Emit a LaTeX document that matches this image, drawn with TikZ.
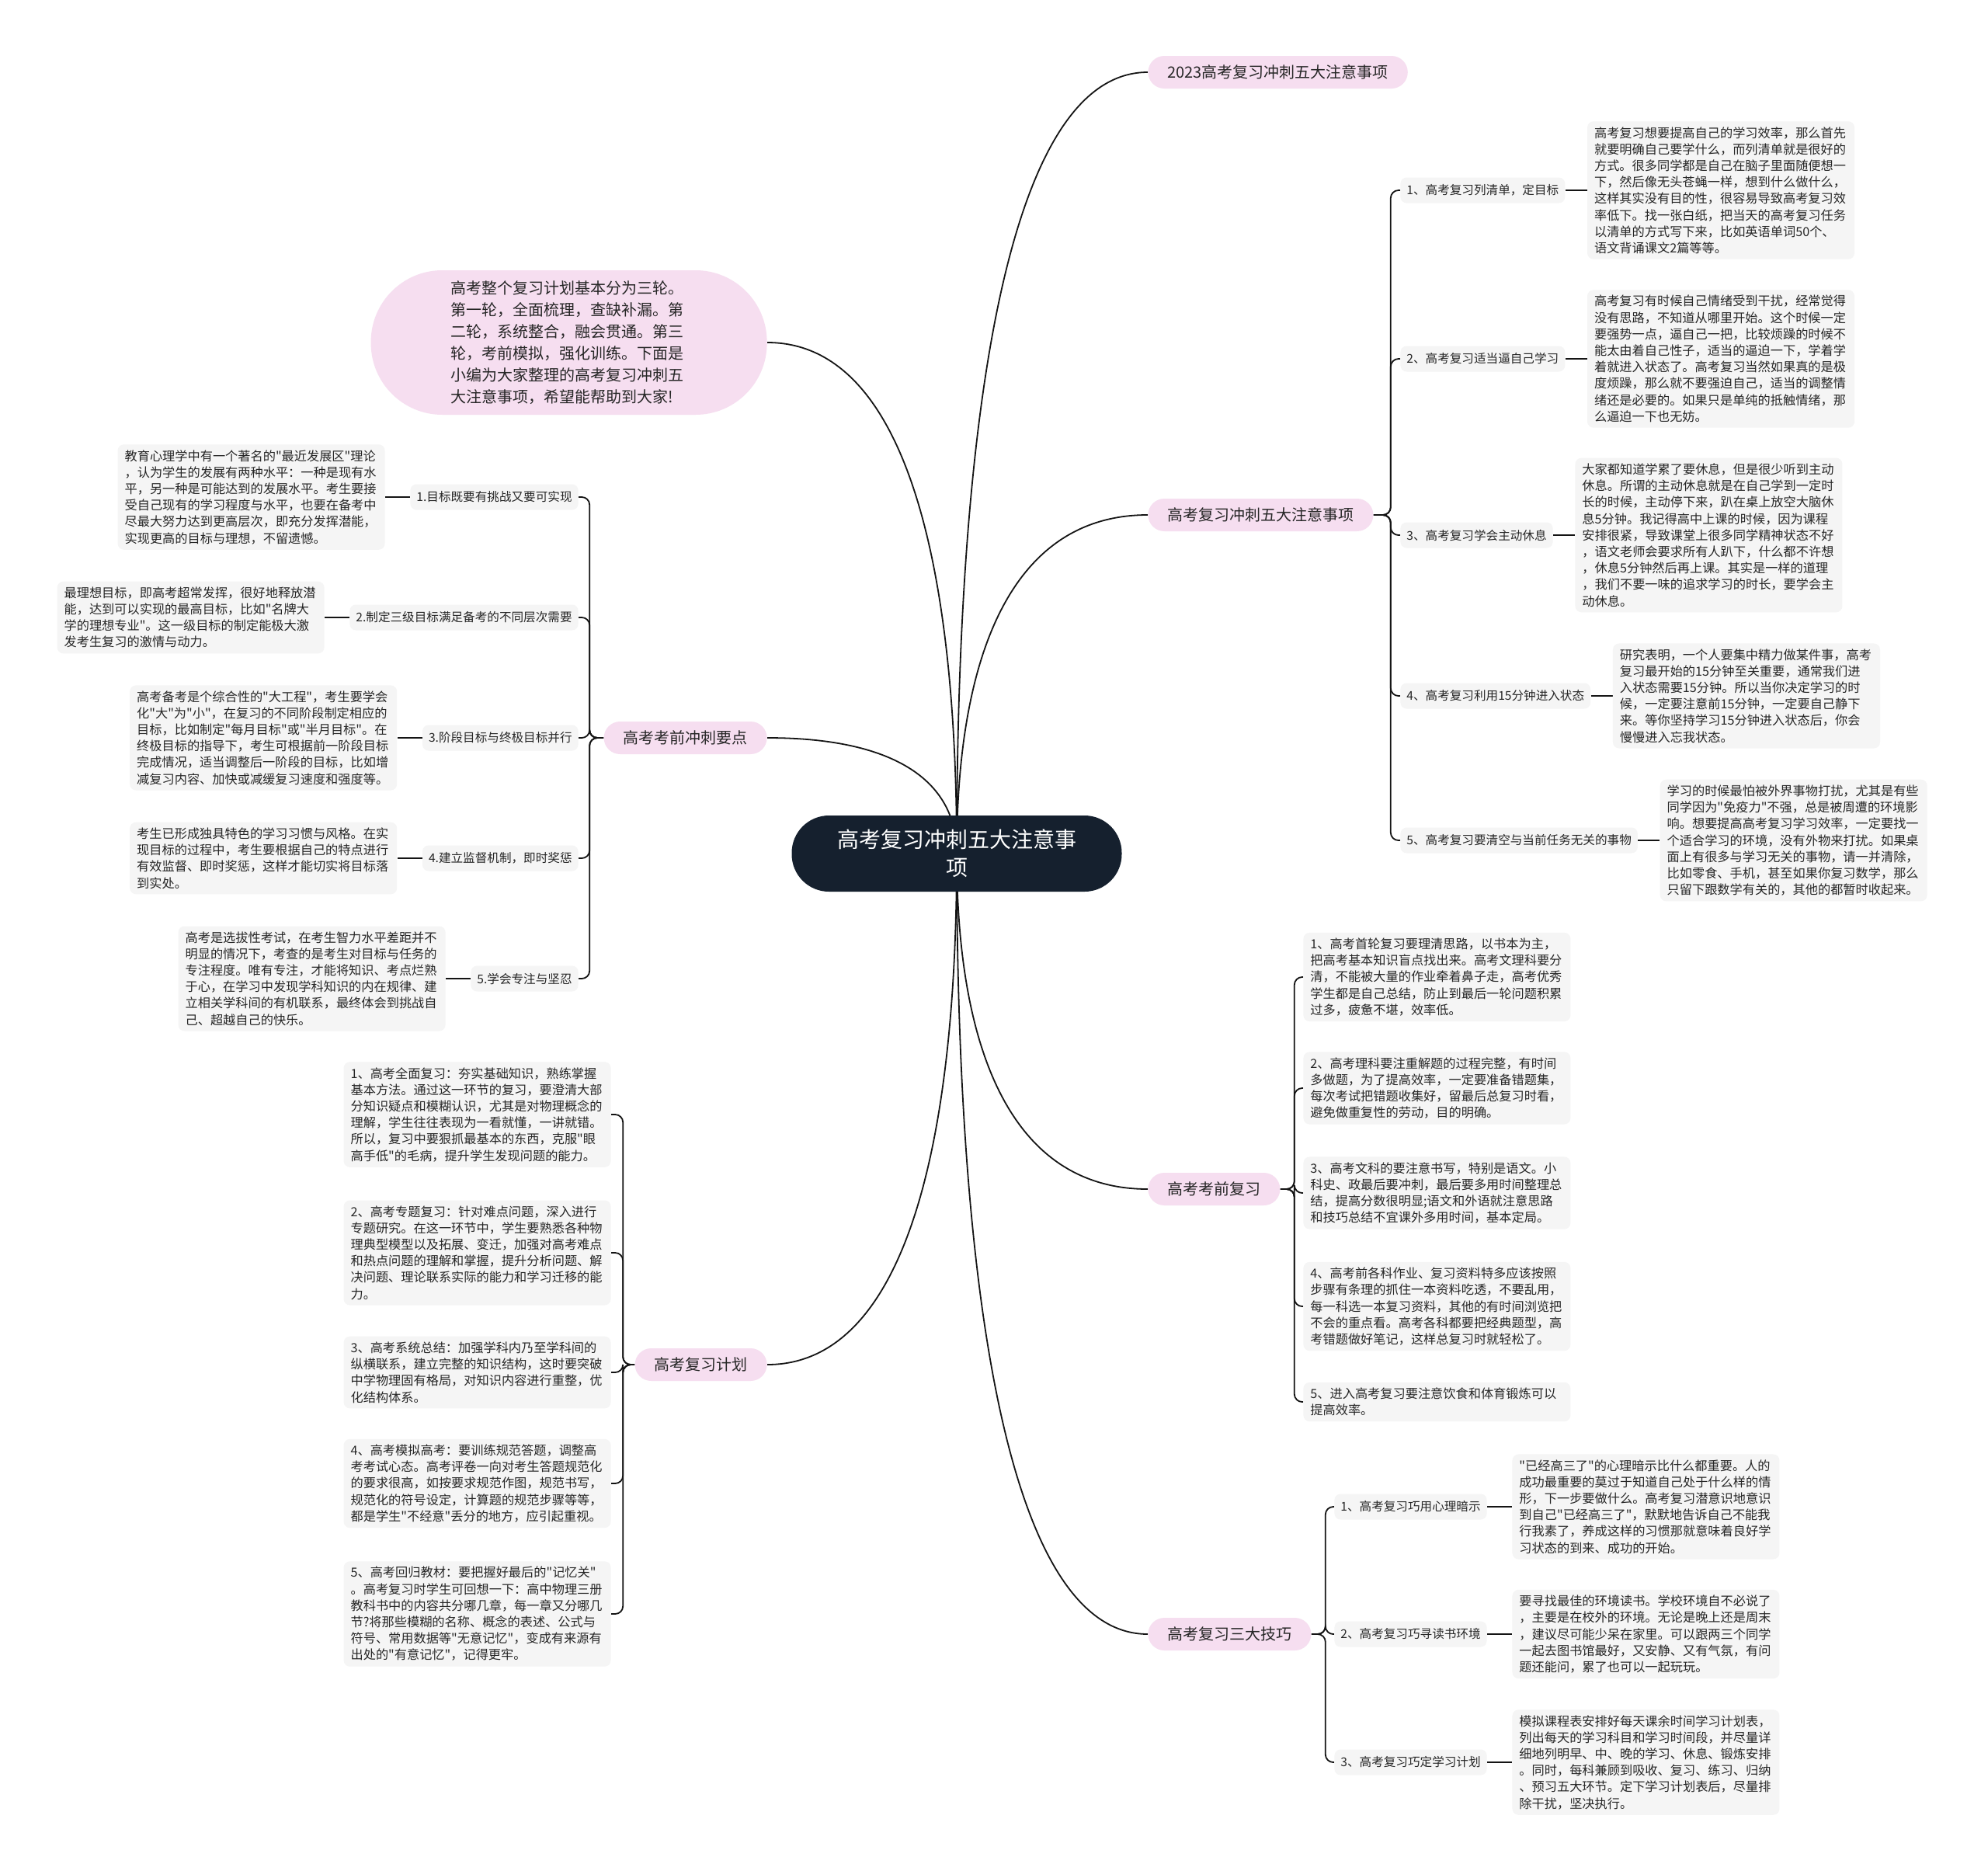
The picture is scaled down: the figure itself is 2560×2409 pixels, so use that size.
\documentclass[tikz,border=0pt]{standalone}
\usepackage{fontspec}
\setmainfont{Noto Sans CJK SC}[Ligatures=TeXOff]
\usetikzlibrary{backgrounds,calc,positioning}
\definecolor{rootc}{RGB}{21,32,46}
\definecolor{pinkc}{RGB}{246,222,240}
\definecolor{grayc}{RGB}{245,245,245}
\definecolor{txtc}{RGB}{38,38,38}
\definecolor{linec}{RGB}{20,20,20}
\begin{document}
\begin{tikzpicture}[x=0.5pt,y=-0.5pt,
  rootnode/.style={fill=rootc, text=white, rounded corners=24pt, minimum width=212.5pt, minimum height=49pt, align=center, font=\fontsize{14pt}{18pt}\selectfont},
  pill/.style={fill=pinkc, text=txtc, rounded corners=10.5pt, minimum height=21pt, inner xsep=12.5pt, inner ysep=0pt, font=\fontsize{10pt}{12pt}\selectfont},
  bubble/.style={fill=pinkc, text=txtc, rounded corners=46pt, minimum width=255pt, minimum height=93pt, inner sep=0pt, text width=152pt, align=left, font=\fontsize{10pt}{14pt}\selectfont},
  lab/.style={fill=grayc, text=txtc, rounded corners=4pt, minimum height=16.5pt, inner xsep=4pt, inner ysep=0pt, font=\fontsize{7.8pt}{10pt}\selectfont},
  body/.style={fill=grayc, text=txtc, rounded corners=4pt, inner xsep=4.5pt, inner ysep=3.5pt, text width=163pt, align=left, font=\fontsize{8.1pt}{10.6pt}\selectfont},
  conn/.style={draw=linec, line width=0.9pt},
  mainconn/.style={to path={.. controls ($(\tikztostart)!0.6!(\tikztostart |- \tikztotarget)$) and ($(\tikztotarget)!0.7!(\tikztostart |- \tikztotarget)$) .. (\tikztotarget)}},
  spine/.style={conn, rounded corners=5pt}
]
\begin{pgfonlayer}{background}
\fill[white] (0,0) rectangle (2560,2409);
\end{pgfonlayer}
\useasboundingbox (0,0) rectangle (2560,2409);

% root
\node[rootnode] (R) at (1232,1099) {高考复习冲刺五大注意事\\项};

% level 1 right
\node[pill, anchor=west] (T1) at (1478,93) {2023高考复习冲刺五大注意事项};
\node[pill, anchor=west] (T2) at (1478,663) {高考复习冲刺五大注意事项};
\node[pill, anchor=west] (T3) at (1478,1531) {高考考前复习};
\node[pill, anchor=west] (T4) at (1478,2104) {高考复习三大技巧};

% level 1 left
\node[bubble, anchor=east] (B) at (988,441) {高考整个复习计划基本分为三轮。\\第一轮，全面梳理，查缺补漏。第\\二轮，系统整合，融会贯通。第三\\轮，考前模拟，强化训练。下面是\\小编为大家整理的高考复习冲刺五\\大注意事项，希望能帮助到大家!};
\node[pill, anchor=east] (L2) at (988,950) {高考考前冲刺要点};
\node[pill, anchor=east] (L3) at (988,1757) {高考复习计划};

% T2 children
\node[lab, anchor=west] (a1) at (1803,245) {1、高考复习列清单，定目标};
\node[body, right=14pt of a1] (a1b) {高考复习想要提高自己的学习效率，那么首先\\就要明确自己要学什么，而列清单就是很好的\\方式。很多同学都是自己在脑子里面随便想一\\下，然后像无头苍蝇一样，想到什么做什么，\\这样其实没有目的性，很容易导致高考复习效\\率低下。找一张白纸，把当天的高考复习任务\\以清单的方式写下来，比如英语单词50个、\\语文背诵课文2篇等等。};
\node[lab, anchor=west] (a2) at (1803,462) {2、高考复习适当逼自己学习};
\node[body, right=14pt of a2] (a2b) {高考复习有时候自己情绪受到干扰，经常觉得\\没有思路，不知道从哪里开始。这个时候一定\\要强势一点，逼自己一把，比较烦躁的时候不\\能太由着自己性子，适当的逼迫一下，学着学\\着就进入状态了。高考复习当然如果真的是极\\度烦躁，那么就不要强迫自己，适当的调整情\\绪还是必要的。如果只是单纯的抵触情绪，那\\么逼迫一下也无妨。};
\node[lab, anchor=west] (a3) at (1803,689) {3、高考复习学会主动休息};
\node[body, right=14pt of a3] (a3b) {大家都知道学累了要休息，但是很少听到主动\\休息。所谓的主动休息就是在自己学到一定时\\长的时候，主动停下来，趴在桌上放空大脑休\\息5分钟。我记得高中上课的时候，因为课程\\安排很紧，导致课堂上很多同学精神状态不好\\，语文老师会要求所有人趴下，什么都不许想\\，休息5分钟然后再上课。其实是一样的道理\\，我们不要一味的追求学习的时长，要学会主\\动休息。};
\node[lab, anchor=west] (a4) at (1803,896) {4、高考复习利用15分钟进入状态};
\node[body, right=14pt of a4] (a4b) {研究表明，一个人要集中精力做某件事，高考\\复习最开始的15分钟至关重要，通常我们进\\入状态需要15分钟。所以当你决定学习的时\\候，一定要注意前15分钟，一定要自己静下\\来。等你坚持学习15分钟进入状态后，你会\\慢慢进入忘我状态。};
\node[lab, anchor=west] (a5) at (1803,1082) {5、高考复习要清空与当前任务无关的事物};
\node[body, right=14pt of a5] (a5b) {学习的时候最怕被外界事物打扰，尤其是有些\\同学因为"免疫力"不强，总是被周遭的环境影\\响。想要提高高考复习学习效率，一定要找一\\个适合学习的环境，没有外物来打扰。如果桌\\面上有很多与学习无关的事物，请一并清除，\\比如零食、手机，甚至如果你复习数学，那么\\只留下跟数学有关的，其他的都暂时收起来。};

% T3 children
\node[body, anchor=west] (c1) at (1678,1258) {1、高考首轮复习要理清思路，以书本为主，\\把高考基本知识盲点找出来。高考文理科要分\\清，不能被大量的作业牵着鼻子走，高考优秀\\学生都是自己总结，防止到最后一轮问题积累\\过多，疲惫不堪，效率低。};
\node[body, anchor=west] (c2) at (1678,1401) {2、高考理科要注重解题的过程完整，有时间\\多做题，为了提高效率，一定要准备错题集，\\每次考试把错题收集好，留最后总复习时看，\\避免做重复性的劳动，目的明确。};
\node[body, anchor=west] (c3) at (1678,1536) {3、高考文科的要注意书写，特别是语文。小\\科史、政最后要冲刺，最后要多用时间整理总\\结，提高分数很明显;语文和外语就注意思路\\和技巧总结不宜课外多用时间，基本定局。};
\node[body, anchor=west] (c4) at (1678,1682) {4、高考前各科作业、复习资料特多应该按照\\步骤有条理的抓住一本资料吃透，不要乱用，\\每一科选一本复习资料，其他的有时间浏览把\\不会的重点看。高考各科都要把经典题型，高\\考错题做好笔记，这样总复习时就轻松了。};
\node[body, anchor=west] (c5) at (1678,1805) {5、进入高考复习要注意饮食和体育锻炼可以\\提高效率。};

% T4 children
\node[lab, anchor=west] (d1) at (1718,1940) {1、高考复习巧用心理暗示};
\node[body, right=16pt of d1] (d1b) {"已经高三了"的心理暗示比什么都重要。人的\\成功最重要的莫过于知道自己处于什么样的情\\形，下一步要做什么。高考复习潜意识地意识\\到自己"已经高三了"，默默地告诉自己不能我\\行我素了，养成这样的习惯那就意味着良好学\\习状态的到来、成功的开始。};
\node[lab, anchor=west] (d2) at (1718,2104) {2、高考复习巧寻读书环境};
\node[body, right=16pt of d2] (d2b) {要寻找最佳的环境读书。学校环境自不必说了\\，主要是在校外的环境。无论是晚上还是周末\\，建议尽可能少呆在家里。可以跟两三个同学\\一起去图书馆最好，又安静、又有气氛，有问\\题还能问，累了也可以一起玩玩。};
\node[lab, anchor=west] (d3) at (1718,2269) {3、高考复习巧定学习计划};
\node[body, right=16pt of d3] (d3b) {模拟课程表安排好每天课余时间学习计划表，\\列出每天的学习科目和学习时间段，并尽量详\\细地列明早、中、晚的学习、休息、锻炼安排\\。同时，每科兼顾到吸收、复习、练习、归纳\\、预习五大环节。定下学习计划表后，尽量排\\除干扰，坚决执行。};

% L2 children
\node[lab, anchor=east] (e1) at (745,640) {1.目标既要有挑战又要可实现};
\node[body, left=16pt of e1] (e1b) {教育心理学中有一个著名的"最近发展区"理论\\，认为学生的发展有两种水平：一种是现有水\\平，另一种是可能达到的发展水平。考生要接\\受自己现有的学习程度与水平，也要在备考中\\尽最大努力达到更高层次，即充分发挥潜能，\\实现更高的目标与理想，不留遗憾。};
\node[lab, anchor=east] (e2) at (745,795) {2.制定三级目标满足备考的不同层次需要};
\node[body, left=16pt of e2] (e2b) {最理想目标，即高考超常发挥，很好地释放潜\\能，达到可以实现的最高目标，比如"名牌大\\学的理想专业"。这一级目标的制定能极大激\\发考生复习的激情与动力。};
\node[lab, anchor=east] (e3) at (745,950) {3.阶段目标与终极目标并行};
\node[body, left=16pt of e3] (e3b) {高考备考是个综合性的"大工程"，考生要学会\\化"大"为"小"，在复习的不同阶段制定相应的\\目标，比如制定"每月目标"或"半月目标"。在\\终极目标的指导下，考生可根据前一阶段目标\\完成情况，适当调整后一阶段的目标，比如增\\减复习内容、加快或减缓复习速度和强度等。};
\node[lab, anchor=east] (e4) at (745,1105) {4.建立监督机制，即时奖惩};
\node[body, left=16pt of e4] (e4b) {考生已形成独具特色的学习习惯与风格。在实\\现目标的过程中，考生要根据自己的特点进行\\有效监督、即时奖惩，这样才能切实将目标落\\到实处。};
\node[lab, anchor=east] (e5) at (745,1260) {5.学会专注与坚忍};
\node[body, left=16pt of e5] (e5b) {高考是选拔性考试，在考生智力水平差距并不\\明显的情况下，考查的是考生对目标与任务的\\专注程度。唯有专注，才能将知识、考点烂熟\\于心，在学习中发现学科知识的内在规律、建\\立相关学科间的有机联系，最终体会到挑战自\\己、超越自己的快乐。};

% L3 children
\node[body, anchor=east] (f1) at (787,1435) {1、高考全面复习：夯实基础知识，熟练掌握\\基本方法。通过这一环节的复习，要澄清大部\\分知识疑点和模糊认识，尤其是对物理概念的\\理解，学生往往表现为一看就懂，一讲就错。\\所以，复习中要狠抓最基本的东西，克服"眼\\高手低"的毛病，提升学生发现问题的能力。};
\node[body, anchor=east] (f2) at (787,1613) {2、高考专题复习：针对难点问题，深入进行\\专题研究。在这一环节中，学生要熟悉各种物\\理典型模型以及拓展、变迁，加强对高考难点\\和热点问题的理解和掌握，提升分析问题、解\\决问题、理论联系实际的能力和学习迁移的能\\力。};
\node[body, anchor=east] (f3) at (787,1767) {3、高考系统总结：加强学科内乃至学科间的\\纵横联系，建立完整的知识结构，这时要突破\\中学物理固有格局，对知识内容进行重整，优\\化结构体系。};
\node[body, anchor=east] (f4) at (787,1910) {4、高考模拟高考：要训练规范答题，调整高\\考考试心态。高考评卷一向对考生答题规范化\\的要求很高，如按要求规范作图，规范书写，\\规范化的符号设定，计算题的规范步骤等等，\\都是学生"不经意"丢分的地方，应引起重视。};
\node[body, anchor=east] (f5) at (787,2078) {5、高考回归教材：要把握好最后的"记忆关"\\。高考复习时学生可回想一下：高中物理三册\\教科书中的内容共分哪几章，每一章又分哪几\\节?将那些模糊的名称、概念的表述、公式与\\符号、常用数据等"无意记忆"，变成有来源有\\出处的"有意记忆"，记得更牢。};

\begin{pgfonlayer}{background}
% main connectors
\draw[conn] (R.center) to[mainconn] (T1.west);
\draw[conn] (R.center) to[mainconn] (T2.west);
\draw[conn] (R.center) to[mainconn] (T3.west);
\draw[conn] (R.center) to[mainconn] (T4.west);
\draw[conn] (R.center) to[mainconn] (B.east);
\draw[conn] (R.center) to[mainconn] (L2.east);
\draw[conn] (R.center) to[mainconn] (L3.east);
% T2 spine
\foreach \n in {a1,a2,a3,a4,a5}{
  \draw[spine] (T2.east) -- ++(22,0) |- (\n.west);
  \draw[conn] (\n.east) -- (\n b.west);
}
% T3 spine
\foreach \n in {c1,c2,c3,c4,c5}{
  \draw[spine] (T3.east) -- ++(18,0) |- (\n.west);
}
% T4 spine
\foreach \n in {d1,d2,d3}{
  \draw[spine] (T4.east) -- ++(18,0) |- (\n.west);
  \draw[conn] (\n.east) -- (\n b.west);
}
% L2 spine
\foreach \n in {e1,e2,e3,e4,e5}{
  \draw[spine] (L2.west) -- ++(-18,0) |- (\n.east);
  \draw[conn] (\n.west) -- (\n b.east);
}
% L3 spine
\foreach \n in {f1,f2,f3,f4,f5}{
  \draw[spine] (L3.west) -- ++(-15,0) |- (\n.east);
}
\end{pgfonlayer}
\end{tikzpicture}
\end{document}
